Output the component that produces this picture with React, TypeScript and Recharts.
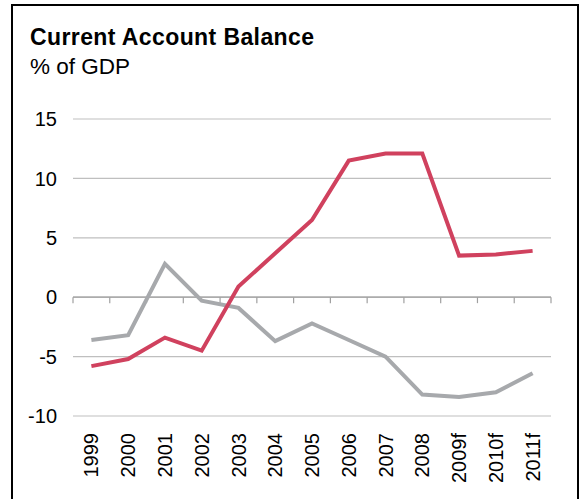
import React from "react";
import { LineChart, Line, XAxis, YAxis, CartesianGrid, ReferenceLine } from "recharts";

const categories = ["1999", "2000", "2001", "2002", "2003", "2004", "2005", "2006", "2007", "2008", "2009f", "2010f", "2011f"];
const redSeries = [-5.8, -5.2, -3.4, -4.5, 0.9, 3.7, 6.5, 11.5, 12.1, 12.1, 3.5, 3.6, 3.9];
const graySeries = [-3.6, -3.2, 2.8, -0.3, -0.9, -3.7, -2.2, -3.6, -5.0, -8.2, -8.4, -8.0, -6.4];
const yTicks = [-10, -5, 0, 5, 10, 15];

const data = categories.map((c, i) => ({ x: i + 0.5, label: c, red: redSeries[i], gray: graySeries[i] }));
const xTicks = categories.map((_, i) => i + 0.5);
const boundaries = Array.from({ length: categories.length + 1 }, (_, i) => i);

const FONT = "'Liberation Sans', Arial, Helvetica, sans-serif";

const XTick = (props: any) => {
  const { x, y, payload } = props;
  const idx = Math.round(payload.value - 0.5);
  const ty = y + 17;
  return (
    <text
      x={x}
      y={ty}
      transform={`rotate(-90, ${x}, ${ty})`}
      textAnchor="end"
      dy="0.355em"
      fontFamily={FONT}
      fontSize={20}
      fill="#000"
    >
      {categories[idx]}
    </text>
  );
};

export default function App() {
  return (
    <div style={{ position: "absolute", left: 0, top: 0, width: 580, height: 499, overflow: "hidden", background: "#fff" }}>
      <div
        style={{
          position: "absolute",
          left: 11,
          top: 4,
          width: 564,
          height: 520,
          borderLeft: "2px solid #000",
          borderTop: "2px solid #000",
          borderRight: "2px solid #000",
        }}
      />
      <div style={{ position: "absolute", left: 30, top: 24, fontFamily: FONT, fontSize: 23, lineHeight: "normal", fontWeight: "bold", letterSpacing: 0.4, color: "#000", whiteSpace: "nowrap" }}>
        Current Account Balance
      </div>
      <div style={{ position: "absolute", left: 30, top: 54, fontFamily: FONT, fontSize: 22.5, lineHeight: "normal", letterSpacing: 0, color: "#000", whiteSpace: "nowrap" }}>
        % of GDP
      </div>
      <div style={{ position: "absolute", left: 0, top: 0 }}>
        <LineChart width={580} height={499} data={data} margin={{ top: 119, right: 29, bottom: 0, left: 0 }}>
          <CartesianGrid vertical={false} stroke="#BFBFBF" strokeWidth={1.2} />
          <XAxis
            dataKey="x"
            type="number"
            domain={[0, categories.length]}
            ticks={xTicks}
            interval={0}
            axisLine={false}
            tickLine={false}
            tickSize={0}
            tickMargin={0}
            height={83}
            tick={<XTick />}
          />
          <YAxis
            type="number"
            domain={[-10, 15]}
            ticks={yTicks}
            interval={0}
            axisLine={false}
            tickLine={false}
            tickSize={0}
            tickMargin={16}
            width={73}
            tick={{ fontFamily: FONT, fontSize: 20, fill: "#000" }}
          />
          <ReferenceLine y={0} stroke="#A0A0A0" strokeWidth={1.2} ifOverflow="extendDomain" />
          {boundaries.map((b) => (
            <ReferenceLine
              key={b}
              segment={[{ x: b, y: 0 }, { x: b, y: -0.5 }]}
              stroke="#A0A0A0"
              strokeWidth={1.2}
            />
          ))}
          <Line type="linear" dataKey="gray" stroke="#A7A9AC" strokeWidth={4} dot={false} isAnimationActive={false} />
          <Line type="linear" dataKey="red" stroke="#D0415E" strokeWidth={4} dot={false} isAnimationActive={false} />
        </LineChart>
      </div>
    </div>
  );
}
